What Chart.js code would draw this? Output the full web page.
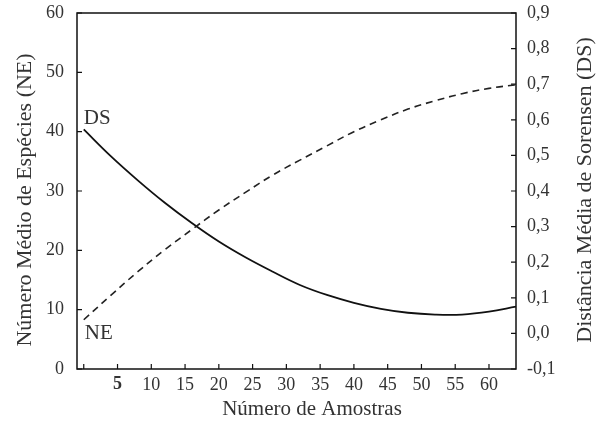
<!DOCTYPE html>
<html>
<head>
<meta charset="utf-8">
<script src="https://cdn.jsdelivr.net/npm/chart.js@4"></script>
<style>
  html, body { margin: 0; padding: 0; background: #fff; }
  #wrap { width: 600px; height: 432px; }
</style>
</head>
<body>
<div id="wrap"><canvas id="chart" width="600" height="432"></canvas></div>
<script>
// number of samples
const amostras = [0, 4, 8, 12, 16, 20, 24, 28, 32, 36, 40, 44, 48, 52, 56, 60, 64];
// mean number of species (NE), dashed
const numEspecies = [8.3, 12.4, 16.4, 20.1, 23.5, 26.8, 29.8, 32.7, 35.2, 37.6, 40.0, 42.0, 43.8, 45.2, 46.4, 47.3, 47.9];
// mean Sorensen distance (DS), solid
const distSorensen = [0.573, 0.498, 0.430, 0.367, 0.310, 0.258, 0.213, 0.173, 0.136, 0.108, 0.086, 0.069, 0.058, 0.053, 0.053, 0.061, 0.075];

const xTicks = [0, 5, 10, 15, 20, 25, 30, 35, 40, 45, 50, 55, 60];
const neTicks = [0, 10, 20, 30, 40, 50, 60];
const dsTicks = [-0.1, 0, 0.1, 0.2, 0.3, 0.4, 0.5, 0.6, 0.7, 0.8, 0.9];

const FONT = "'Liberation Serif', 'DejaVu Serif', serif";
const INK = '#333';

function toPoints(ys) {
  return amostras.map((x, i) => ({ x: x, y: ys[i] }));
}

// box, inward tick marks, titles and curve labels
const decorPlugin = {
  id: 'decor',
  afterDraw(chart) {
    const c = chart.ctx;
    const a = chart.chartArea;
    const sx = chart.scales.x, sl = chart.scales.yNE, sr = chart.scales.yDS;
    c.save();
    c.strokeStyle = '#111';
    c.lineWidth = 1.5;
    c.strokeRect(a.left, a.top, a.right - a.left, a.bottom - a.top);
    c.lineWidth = 1.2;
    c.beginPath();
    xTicks.forEach(v => {
      const px = sx.getPixelForValue(v);
      c.moveTo(px, a.bottom); c.lineTo(px, a.bottom - 5);
    });
    neTicks.forEach(v => {
      const py = sl.getPixelForValue(v);
      c.moveTo(a.left, py); c.lineTo(a.left + 5, py);
    });
    dsTicks.forEach(v => {
      const py = sr.getPixelForValue(v);
      c.moveTo(a.right, py); c.lineTo(a.right - 5, py);
    });
    c.stroke();

    c.fillStyle = INK;
    c.textAlign = 'center';
    c.textBaseline = 'middle';
    c.font = '21px ' + FONT;
    c.fillText('Número de Amostras', 312, 409);
    c.font = '22px ' + FONT;
    c.save();
    c.translate(25, 200);
    c.rotate(-Math.PI / 2);
    c.fillText('Número Médio de Espécies (NE)', 0, 0);
    c.restore();
    c.save();
    c.translate(585, 190);
    c.rotate(-Math.PI / 2);
    c.fillText('Distância Média de Sorensen (DS)', 0, 0);
    c.restore();

    c.font = '21px ' + FONT;
    c.textAlign = 'left';
    c.fillText('DS', sx.getPixelForValue(0), sr.getPixelForValue(0.575) - 10);
    c.fillText('NE', sx.getPixelForValue(0) + 1, sl.getPixelForValue(8.3) + 14);
    c.restore();
  }
};

function noVPad(s) {
  s.paddingTop = 0;
  s.paddingBottom = 0;
}

new Chart(document.getElementById('chart'), {
  type: 'line',
  data: {
    datasets: [
      {
        label: 'NE',
        data: toPoints(numEspecies),
        yAxisID: 'yNE',
        borderColor: '#222',
        borderWidth: 1.6,
        borderDash: [7, 5],
        pointRadius: 0,
        tension: 0.4,
        fill: false
      },
      {
        label: 'DS',
        data: toPoints(distSorensen),
        yAxisID: 'yDS',
        borderColor: '#111',
        borderWidth: 1.8,
        pointRadius: 0,
        tension: 0.4,
        fill: false
      }
    ]
  },
  options: {
    responsive: false,
    animation: false,
    layout: { padding: { top: 13, left: 0, right: 0, bottom: 0 } },
    plugins: { legend: { display: false }, tooltip: { enabled: false } },
    scales: {
      x: {
        type: 'linear',
        min: -1,
        max: 64,
        afterBuildTicks: s => { s.ticks = xTicks.map(v => ({ value: v })); },
        afterFit: s => { s.height = 63; s.paddingLeft = 0; s.paddingRight = 0; },
        grid: { display: false, drawTicks: false },
        border: { display: false },
        ticks: {
          padding: 5,
          color: INK,
          maxRotation: 0,
          autoSkip: false,
          font: ctx => ({ family: FONT, size: 18, weight: ctx.tick && ctx.tick.value === 5 ? 'bold' : 'normal' }),
          callback: v => (v === 0 ? '' : String(v))
        }
      },
      yNE: {
        type: 'linear',
        position: 'left',
        min: 0,
        max: 60,
        afterBuildTicks: s => { s.ticks = neTicks.map(v => ({ value: v })); },
        afterFit: s => { s.width = 77; noVPad(s); },
        grid: { display: false, drawTicks: false },
        border: { display: false },
        ticks: { padding: 13, color: INK, font: { family: FONT, size: 18 } }
      },
      yDS: {
        type: 'linear',
        position: 'right',
        min: -0.1,
        max: 0.9,
        afterBuildTicks: s => { s.ticks = dsTicks.map(v => ({ value: v })); },
        afterFit: s => { s.width = 84; noVPad(s); },
        grid: { display: false, drawTicks: false },
        border: { display: false },
        ticks: {
          padding: 11,
          color: INK,
          font: { family: FONT, size: 18 },
          callback: v => v.toFixed(1).replace('.', ',')
        }
      }
    }
  },
  plugins: [decorPlugin]
});
</script>
</body>
</html>
